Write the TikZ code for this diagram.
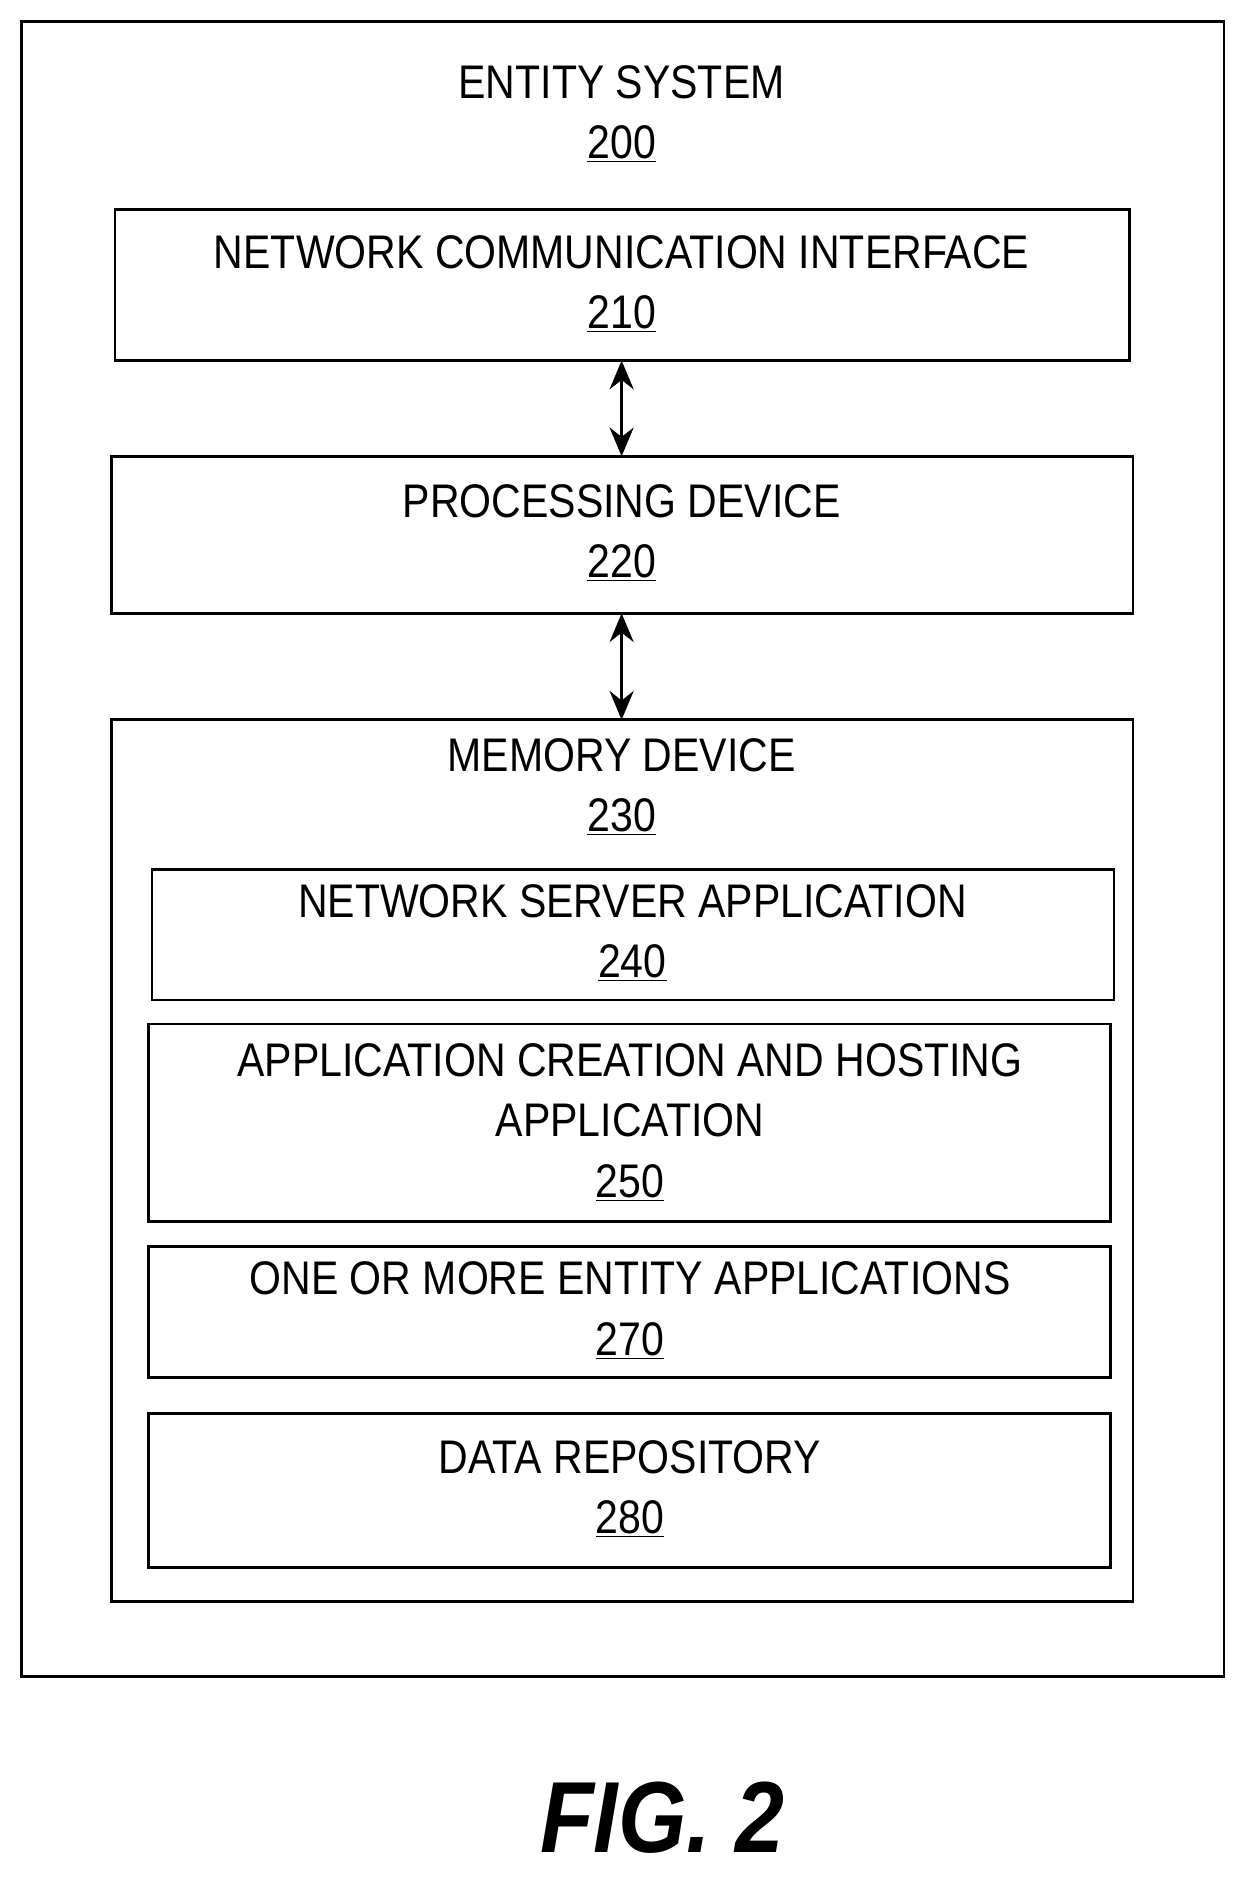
\documentclass[tikz,border=0pt]{standalone}
\usepackage{fontspec}
\setmainfont{Liberation Sans}[FakeStretch=0.87]
\usetikzlibrary{arrows.meta}
\newcommand{\lbl}[2]{#1\\\underline{#2}}
\begin{document}
\begin{tikzpicture}[x=0.025cm,y=-0.025cm]
	\tikzset{box/.style={draw=black, line width=1.6pt},
		txt/.style={align=center, font=\fontsize{28}{36}\selectfont, inner sep=0pt},
		link/.style={line width=2pt, {Stealth[length=6mm,width=5mm]}-{Stealth[length=6mm,width=5mm]}}}
	\useasboundingbox (0,0) rectangle (1040,1568);
	
	\draw [box] (18,18) rectangle (1022,1400);
	\node [txt] (200) at (519,95) {\lbl{ENTITY SYSTEM}{200}};
	
	\draw [box] (96,175) rectangle (943,301);
	\node [txt] (210) at (519,237) {\lbl{NETWORK COMMUNICATION INTERFACE}{210}};
	\draw [box] (93,381) rectangle (946,512);
	\node [txt] (220) at (519,445) {\lbl{PROCESSING DEVICE}{220}};
	\draw [box] (93,601) rectangle (946,1337);
	\node [txt] (230) at (519,657) {\lbl{MEMORY DEVICE}{230}};
	
	\draw [box] (127,726) rectangle (930,835);
	\node [txt] (240) at (528,779) {\lbl{NETWORK SERVER APPLICATION}{240}};
	\draw [box] (124,855) rectangle (927,1020);
	\node [txt] (250) at (526,937) {APPLICATION CREATION AND HOSTING\\APPLICATION\\\underline{250}};
	\draw [box] (124,1041) rectangle (927,1150);
	\node [txt] (270) at (526,1094) {\lbl{ONE OR MORE ENTITY APPLICATIONS}{270}};
	\draw [box] (124,1180) rectangle (927,1309);
	\node [txt] (280) at (526,1243) {\lbl{DATA REPOSITORY}{280}};
	
	\coordinate (a1) at (519,301); \coordinate (a2) at (519,381);
	\coordinate (b1) at (519,512); \coordinate (b2) at (519,601);
	\draw [link] (a1) to (a2);
	\draw [link] (b1) to (b2);
	
	\node [font=\fontsize{60}{60}\selectfont\bfseries\itshape] (fig) at (553,1518) {FIG. 2};
\end{tikzpicture}
\end{document}
